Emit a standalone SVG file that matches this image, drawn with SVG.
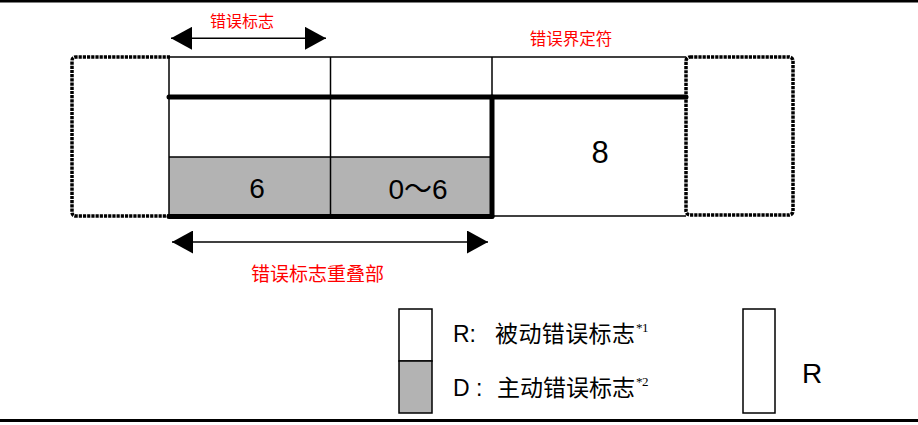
<svg xmlns="http://www.w3.org/2000/svg" width="918" height="425" viewBox="0 0 918 425">
<style>
.t{font-family:"Liberation Sans","Noto Sans CJK SC",sans-serif;fill:#000}
.red{font-family:"Liberation Sans","Noto Sans CJK SC",sans-serif;fill:#ff0000}
.sup{font-family:"Liberation Serif",serif;font-size:13px;fill:#000}
.thin{stroke:#000;stroke-width:1.5;fill:none}
.thick{stroke:#000;stroke-width:5;fill:none;stroke-linecap:round}
.dot{stroke:#000;stroke-width:3.5;fill:none;stroke-dasharray:3.2 1}
.gray{fill:#b3b3b3}
</style>
<defs>
<marker id="ah" viewBox="0 0 21 23" refX="21" refY="11.5" markerWidth="21" markerHeight="23" markerUnits="userSpaceOnUse" orient="auto-start-reverse">
<path d="M0,0 L21,11.5 L0,23 Z" fill="#000"/>
</marker>
</defs>
<rect x="0" y="0" width="918" height="2.5" fill="#000"/>
<rect x="0" y="419" width="918" height="3" fill="#000"/>
<g id="left-box">
<path class="dot" d="M170,57 L76,57 Q72,57 72,61 L72,212 Q72,216 76,216 L170,216"/>
</g>
<g id="right-box">
<rect class="dot" x="686" y="57" width="107" height="158" rx="4"/>
</g>
<g id="table">
<rect class="gray" x="169" y="157" width="323" height="59"/>
<line class="thin" x1="169" y1="57" x2="686" y2="57"/>
<line class="thin" x1="169" y1="57" x2="169" y2="216"/>
<line class="thin" x1="330.5" y1="57" x2="330.5" y2="216"/>
<line class="thin" x1="492" y1="57" x2="492" y2="96"/>
<line class="thin" x1="169" y1="157" x2="492" y2="157"/>
<line class="thin" x1="492" y1="216" x2="686" y2="216"/>
<line class="thick" x1="169" y1="97" x2="686" y2="97"/>
<line class="thick" x1="492" y1="97" x2="492" y2="216"/>
<line class="thick" x1="169" y1="216.5" x2="492" y2="216.5"/>
<text class="t" x="257" y="198" font-size="28" text-anchor="middle">6</text>
<text class="t" x="418" y="199" font-size="28" text-anchor="middle">0～6</text>
<text class="t" x="600" y="162.5" font-size="31" text-anchor="middle">8</text>
</g>
<g id="connectors">
<line x1="171" y1="38.3" x2="326" y2="38.3" stroke="#000" stroke-width="1.5" marker-start="url(#ah)" marker-end="url(#ah)"/>
<line x1="172" y1="242" x2="488" y2="242" stroke="#000" stroke-width="1.5" marker-start="url(#ah)" marker-end="url(#ah)"/>
</g>
<g id="labels">
<text class="red" x="242" y="27" font-size="16" text-anchor="middle">错误标志</text>
<text class="red" x="571" y="45" font-size="16.5" text-anchor="middle">错误界定符</text>
<text class="red" x="317.5" y="280.5" font-size="19" text-anchor="middle">错误标志重叠部</text>
</g>
<g id="legend">
<rect x="399" y="309" width="33" height="52" fill="#fff" stroke="#000" stroke-width="1.5"/>
<rect x="399" y="361" width="33" height="52" fill="#b3b3b3" stroke="#000" stroke-width="1.5"/>
<text class="t" x="453" y="341.7" font-size="23">R:</text>
<text class="t" x="495" y="341.7" font-size="23" textLength="140" lengthAdjust="spacing">被动错误标志</text>
<text class="sup" x="636" y="332">*</text>
<text class="sup" x="642" y="332">1</text>
<text class="t" x="453" y="396" font-size="23">D :</text>
<text class="t" x="497" y="396" font-size="23" textLength="138" lengthAdjust="spacing">主动错误标志</text>
<text class="sup" x="636" y="386">*</text>
<text class="sup" x="642" y="386">2</text>
</g>
<g id="r-box">
<rect x="743" y="309" width="32" height="104" fill="#fff" stroke="#000" stroke-width="1.5"/>
<text class="t" x="812" y="383" font-size="28" text-anchor="middle">R</text>
</g>
</svg>
